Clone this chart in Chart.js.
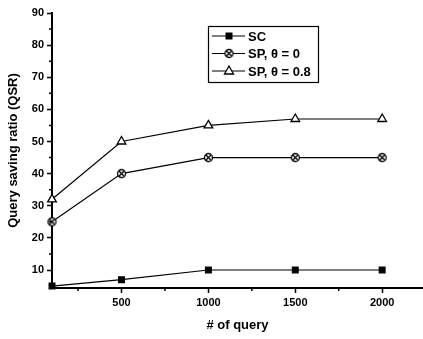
<!DOCTYPE html>
<html>
<head>
<meta charset="utf-8">
<script src="https://cdn.jsdelivr.net/npm/chart.js@4"></script>
<style>
  html, body { margin: 0; padding: 0; background: #fff; }
  #wrap { width: 423px; height: 339px; }
</style>
</head>
<body>
<div id="wrap"><canvas id="myChart" width="423" height="339"></canvas></div>
<script>
const queries = [100, 500, 1000, 1500, 2000];
const scValues = [5, 7, 10, 10, 10];
const sp0Values = [25, 40, 45, 45, 45];
const sp08Values = [32, 50, 55, 57, 57];

const seriesNames = ["SC", "SP, \u03b8 = 0", "SP, \u03b8 = 0.8"];

const xTickValues = [500, 1000, 1500, 2000];
const xMinorValues = [250, 750, 1250, 1750, 2250];
const yTickValues = [10, 20, 30, 40, 50, 60, 70, 80, 90];
const yMinorValues = [5, 15, 25, 35, 45, 55, 65, 75, 85];

const FONT = "'Liberation Sans', Arial, sans-serif";

// circle with an x inside, used as a point style
function circleCross(r) {
  const c = document.createElement("canvas");
  const s = Math.ceil(r * 2 + 3);
  c.width = s;
  c.height = s;
  const g = c.getContext("2d");
  const m = s / 2;
  g.fillStyle = "#fff";
  g.strokeStyle = "#000";
  g.lineWidth = 1.3;
  g.beginPath();
  g.arc(m, m, r, 0, Math.PI * 2);
  g.fill();
  g.stroke();
  const d = r * 0.62;
  g.beginPath();
  g.moveTo(m - d, m - d);
  g.lineTo(m + d, m + d);
  g.moveTo(m + d, m - d);
  g.lineTo(m - d, m + d);
  g.stroke();
  return c;
}

const crossImg = circleCross(4);

function toPoints(values) {
  return values.map((v, i) => ({ x: queries[i], y: v }));
}

const markers = ["rect", crossImg, "triangle"];

function drawMarker(ctx, i, x, y) {
  ctx.save();
  ctx.strokeStyle = "#000";
  ctx.lineWidth = 1.3;
  if (i === 0) {
    ctx.fillStyle = "#000";
    ctx.fillRect(x - 3.5, y - 3.5, 7, 7);
  } else if (i === 1) {
    ctx.drawImage(crossImg, x - crossImg.width / 2, y - crossImg.height / 2);
  } else {
    ctx.fillStyle = "#fff";
    ctx.beginPath();
    ctx.moveTo(x, y - 5);
    ctx.lineTo(x + 4.5, y + 3);
    ctx.lineTo(x - 4.5, y + 3);
    ctx.closePath();
    ctx.fill();
    ctx.stroke();
  }
  ctx.restore();
}

// minor ticks on both axes
const minorTicks = {
  id: "minorTicks",
  afterDraw(chart) {
    const ctx = chart.ctx;
    const xs = chart.scales.x;
    const ys = chart.scales.y;
    ctx.save();
    ctx.strokeStyle = "#000";
    ctx.lineWidth = 1.5;
    ctx.beginPath();
    xMinorValues.forEach((v) => {
      const px = xs.getPixelForValue(v);
      if (px > xs.left && px <= xs.right) {
        ctx.moveTo(px, xs.top);
        ctx.lineTo(px, xs.top + 3);
      }
    });
    yMinorValues.forEach((v) => {
      const py = ys.getPixelForValue(v);
      if (py >= ys.top && py < ys.bottom) {
        ctx.moveTo(ys.right, py);
        ctx.lineTo(ys.right - 3, py);
      }
    });
    ctx.stroke();
    ctx.restore();
  },
};

// boxed legend with line + marker samples
const boxLegend = {
  id: "boxLegend",
  afterDraw(chart) {
    const ctx = chart.ctx;
    const left = 208, top = 26, w = 110, h = 56;
    ctx.save();
    ctx.strokeStyle = "#000";
    ctx.lineWidth = 1.2;
    ctx.strokeRect(left + 0.5, top + 0.5, w, h);
    ctx.font = "bold 13px " + FONT;
    ctx.fillStyle = "#000";
    ctx.textBaseline = "middle";
    chart.data.datasets.forEach((ds, i) => {
      const y = top + 10 + i * 17.5;
      ctx.lineWidth = 1.2;
      ctx.beginPath();
      ctx.moveTo(left + 4, y);
      ctx.lineTo(left + 37, y);
      ctx.stroke();
      drawMarker(ctx, i, left + 21, y);
      ctx.fillText(ds.label, left + 40, y + 1);
    });
    ctx.restore();
  },
};

const datasets = [scValues, sp0Values, sp08Values].map((vals, i) => ({
  label: seriesNames[i],
  data: toPoints(vals),
  borderColor: "#000",
  borderWidth: 1.2,
  backgroundColor: i === 0 ? "#000" : "#fff",
  pointBorderColor: "#000",
  pointBackgroundColor: i === 0 ? "#000" : "#fff",
  pointBorderWidth: 1.3,
  pointStyle: markers[i],
  pointRadius: i === 2 ? 5 : 4,
  tension: 0,
  clip: false,
}));

const ctx = document.getElementById("myChart");

new Chart(ctx, {
  type: "line",
  data: { datasets: datasets },
  options: {
    responsive: false,
    animation: false,
    layout: { autoPadding: false, padding: { top: 13, right: 0, bottom: 0, left: 0 } },
    plugins: {
      legend: { display: false },
      tooltip: { enabled: false },
    },
    scales: {
      x: {
        type: "linear",
        min: 100,
        max: 2235,
        afterBuildTicks: (s) => {
          s.ticks = xTickValues.map((v) => ({ value: v }));
        },
        afterFit: (s) => {
          s.height = 51;
          s.paddingLeft = 0;
          s.paddingRight = 0;
        },
        border: { display: true, color: "#000", width: 2 },
        grid: { drawOnChartArea: false, drawTicks: true, tickLength: 5, color: "#000", tickWidth: 1.5 },
        ticks: {
          color: "#000",
          padding: 3,
          maxRotation: 0,
          callback: (v) => String(v),
          font: { family: FONT, size: 11, weight: "bold" },
        },
        title: {
          display: true,
          text: "# of query",
          color: "#000",
          padding: { top: 0, bottom: 6 },
          font: { family: FONT, size: 13, weight: "bold" },
        },
      },
      y: {
        min: 4.4,
        max: 90,
        afterBuildTicks: (s) => {
          s.ticks = yTickValues.map((v) => ({ value: v }));
        },
        afterFit: (s) => {
          s.width = 52;
        },
        border: { display: true, color: "#000", width: 2 },
        grid: { drawOnChartArea: false, drawTicks: true, tickLength: 5, color: "#000", tickWidth: 1.5 },
        ticks: {
          color: "#000",
          padding: 3,
          callback: (v) => String(v),
          font: { family: FONT, size: 11, weight: "bold" },
        },
        title: {
          display: true,
          text: "Query saving ratio (QSR)",
          color: "#000",
          padding: { top: 6, bottom: 0 },
          font: { family: FONT, size: 13, weight: "bold" },
        },
      },
    },
  },
  plugins: [minorTicks, boxLegend],
});
</script>
</body>
</html>
